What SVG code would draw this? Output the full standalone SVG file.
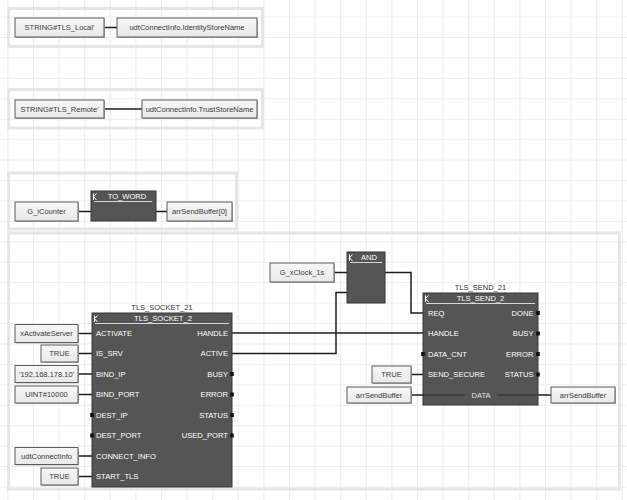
<svg xmlns="http://www.w3.org/2000/svg" width="627" height="500" viewBox="0 0 627 500">
<defs>
<pattern id="grid" x="7.4" y="16.6" width="25.6" height="20.43" patternUnits="userSpaceOnUse">
<path d="M0.5 0 V20.43 M0 0.5 H25.6" stroke="#ededed" stroke-width="1" fill="none"/>
</pattern>
<linearGradient id="boxg" x1="0" y1="0" x2="0" y2="1">
<stop offset="0" stop-color="#f7f7f7"/>
<stop offset="1" stop-color="#e9e9e9"/>
</linearGradient>
</defs>
<style>
.panel{fill:none;stroke:#e6e6e6;stroke-width:3}
.box{fill:url(#boxg);stroke:#5c5c5c;stroke-width:1}
.shd{fill:#b5b5b5}
.bt{font-family:"Liberation Sans",Arial,sans-serif;font-size:7.5px;fill:#3a3a3a;text-anchor:middle}
.blk{fill:#555555;stroke:#363636;stroke-width:1}
.pl{font-family:"Liberation Sans",Arial,sans-serif;font-size:7.6px;fill:#ffffff}
.pr{font-family:"Liberation Sans",Arial,sans-serif;font-size:7.6px;fill:#ffffff;text-anchor:end}
.ttl{font-family:"Liberation Sans",Arial,sans-serif;font-size:7.6px;fill:#ffffff;text-anchor:middle}
.inst{font-family:"Liberation Sans",Arial,sans-serif;font-size:7.5px;fill:#333;text-anchor:middle}
.ul{stroke:#d8d8d8;stroke-width:1}
.icon{stroke:#ffffff;stroke-width:1;fill:none}
.pin{fill:#111}
.wire{stroke:#1e1e1e;stroke-width:1.5;fill:none}
.dline{stroke:#2e2e2e;stroke-width:1;fill:none}
</style>
<rect width="627" height="500" fill="#ffffff"/>
<rect width="627" height="500" fill="url(#grid)"/>

<g id="panels">
<rect class="panel" x="8.5" y="8.5" width="254" height="38"/>
<rect class="panel" x="8.5" y="89.5" width="254" height="38.5"/>
<rect class="panel" x="8.5" y="173" width="228" height="56"/>
<rect class="panel" x="8.5" y="233" width="611" height="256"/>
</g>

<g id="connectors">
<path class="wire" d="M104 27.5 H117"/>
<path class="wire" d="M104 109 H142"/>
<path class="wire" d="M78 211.5 H91"/>
<path class="wire" d="M156 211.5 H167"/>
<path class="wire" d="M334 272.5 H347"/>
<path class="wire" d="M385 272.5 H411 V313 H423"/>
<path class="wire" d="M232 333 H423"/>
<path class="wire" d="M232 353.5 H336 V292.5 H347"/>
<path class="wire" d="M78 333.5 H92"/>
<path class="wire" d="M78 353.5 H92"/>
<path class="wire" d="M78 374 H92"/>
<path class="wire" d="M78 394.5 H92"/>
<path class="wire" d="M78 456 H92"/>
<path class="wire" d="M78 476.5 H92"/>
<path class="wire" d="M411 374.5 H423"/>
<path class="wire" d="M412 395 H423"/>
<path class="wire" d="M538 395 H551"/>
</g>

<g id="c_tls_local">
<rect class="shd" x="16" y="19" width="89" height="19"/>
<rect class="box" x="15" y="18" width="89" height="19"/>
<text class="bt" x="59.5" y="30.2">STRING#TLS_Local'</text>
</g>
<g id="v_identity">
<rect class="shd" x="118" y="19" width="140" height="19"/>
<rect class="box" x="117" y="18" width="140" height="19"/>
<text class="bt" x="187" y="30.2">udtConnectInfo.IdentityStoreName</text>
</g>
<g id="c_tls_remote">
<rect class="shd" x="16" y="101" width="89" height="18"/>
<rect class="box" x="15" y="100" width="89" height="18"/>
<text class="bt" x="59.5" y="111.7">STRING#TLS_Remote'</text>
</g>
<g id="v_trust">
<rect class="shd" x="143" y="101" width="115" height="18"/>
<rect class="box" x="142" y="100" width="115" height="18"/>
<text class="bt" x="199.5" y="111.7">udtConnectInfo.TrustStoreName</text>
</g>

<g id="v_icounter">
<rect class="shd" x="16" y="203" width="63" height="19"/>
<rect class="box" x="15" y="202" width="63" height="19"/>
<text class="bt" x="46.5" y="214.2">G_iCounter</text>
</g>
<g id="fb_to_word">
<rect class="blk" x="91" y="191" width="65" height="30"/>
<path class="icon" d="M93.5 193.5 V200 M93.5 196.7 L96.5 193.5 M93.5 196.7 L96.5 200"/>
<line class="ul" x1="94" y1="201.5" x2="152" y2="201.5"/>
<text class="ttl" x="127" y="199">TO_WORD</text>
</g>
<g id="v_sendbuf0">
<rect class="shd" x="168" y="203" width="65" height="19"/>
<rect class="box" x="167" y="202" width="65" height="19"/>
<text class="bt" x="199.5" y="214.2">arrSendBuffer[0]</text>
</g>

<g id="v_xclock">
<rect class="shd" x="271" y="264" width="64" height="19"/>
<rect class="box" x="270" y="263" width="64" height="19"/>
<text class="bt" x="302" y="275.2">G_xClock_1s</text>
</g>
<g id="fb_and">
<rect class="blk" x="347" y="252" width="38" height="51"/>
<path class="icon" d="M349.5 254.5 V261 M349.5 257.7 L352.5 254.5 M349.5 257.7 L352.5 261"/>
<line class="ul" x1="350" y1="262.5" x2="382" y2="262.5"/>
<text class="ttl" x="369" y="260">AND</text>
</g>

<g id="in_activate">
<rect class="shd" x="16" y="325.5" width="63" height="18"/>
<rect class="box" x="15" y="324.5" width="63" height="18"/>
<text class="bt" x="46.5" y="336.2">xActivateServer</text>
</g>
<g id="in_issrv">
<rect class="shd" x="42" y="346" width="37" height="17"/>
<rect class="box" x="41" y="345" width="37" height="17"/>
<text class="bt" x="59.5" y="356.2">TRUE</text>
</g>
<g id="in_bindip">
<rect class="shd" x="16" y="366.5" width="63" height="17"/>
<rect class="box" x="15" y="365.5" width="63" height="17"/>
<text class="bt" x="46.5" y="376.7">'192.168.178.10'</text>
</g>
<g id="in_bindport">
<rect class="shd" x="16" y="387" width="63" height="17"/>
<rect class="box" x="15" y="386" width="63" height="17"/>
<text class="bt" x="46.5" y="397.2">UINT#10000</text>
</g>
<g id="in_connectinfo">
<rect class="shd" x="16" y="448.5" width="63" height="17"/>
<rect class="box" x="15" y="447.5" width="63" height="17"/>
<text class="bt" x="46.5" y="458.7">udtConnectInfo</text>
</g>
<g id="in_starttls">
<rect class="shd" x="42" y="469" width="37" height="17"/>
<rect class="box" x="41" y="468" width="37" height="17"/>
<text class="bt" x="59.5" y="479.2">TRUE</text>
</g>

<g id="fb_tls_socket">
<text class="inst" x="162" y="310">TLS_SOCKET_21</text>
<rect class="blk" x="92" y="313" width="140" height="174"/>
<path class="icon" d="M94.5 315.5 V322 M94.5 318.7 L97.5 315.5 M94.5 318.7 L97.5 322"/>
<line class="ul" x1="95" y1="323.5" x2="229" y2="323.5"/>
<text class="ttl" x="163" y="321">TLS_SOCKET_2</text>
<text class="pl" x="96" y="336">ACTIVATE</text>
<text class="pl" x="96" y="356.2">IS_SRV</text>
<text class="pl" x="96" y="376.7">BIND_IP</text>
<text class="pl" x="96" y="397.2">BIND_PORT</text>
<text class="pl" x="96" y="417.7">DEST_IP</text>
<text class="pl" x="96" y="438.2">DEST_PORT</text>
<text class="pl" x="96" y="458.7">CONNECT_INFO</text>
<text class="pl" x="96" y="479.2">START_TLS</text>
<text class="pr" x="228" y="336">HANDLE</text>
<text class="pr" x="228" y="356.2">ACTIVE</text>
<text class="pr" x="228" y="376.7">BUSY</text>
<text class="pr" x="228" y="397.2">ERROR</text>
<text class="pr" x="228" y="417.7">STATUS</text>
<text class="pr" x="228" y="438.2">USED_PORT</text>
<rect class="pin" x="90.2" y="413" width="3.6" height="4"/>
<rect class="pin" x="90.2" y="433.5" width="3.6" height="4"/>
<rect class="pin" x="230.2" y="372" width="3.6" height="4"/>
<rect class="pin" x="230.2" y="392.5" width="3.6" height="4"/>
<rect class="pin" x="230.2" y="413" width="3.6" height="4"/>
<rect class="pin" x="230.2" y="433.5" width="3.6" height="4"/>
</g>

<g id="in_sendsecure">
<rect class="shd" x="373" y="367" width="39" height="17"/>
<rect class="box" x="372" y="366" width="39" height="17"/>
<text class="bt" x="391.5" y="377.2">TRUE</text>
</g>
<g id="in_data">
<rect class="shd" x="348" y="388" width="64" height="16"/>
<rect class="box" x="347" y="387" width="64" height="16"/>
<text class="bt" x="379" y="397.7">arrSendBuffer</text>
</g>
<g id="out_data">
<rect class="shd" x="552" y="388" width="64" height="16"/>
<rect class="box" x="551" y="387" width="64" height="16"/>
<text class="bt" x="583" y="397.7">arrSendBuffer</text>
</g>

<g id="fb_tls_send">
<text class="inst" x="480.5" y="290">TLS_SEND_21</text>
<rect class="blk" x="423" y="293" width="115" height="112"/>
<path class="icon" d="M425.5 295.5 V302 M425.5 298.7 L428.5 295.5 M425.5 298.7 L428.5 302"/>
<line class="ul" x1="426" y1="303.5" x2="535" y2="303.5"/>
<text class="ttl" x="480.5" y="301">TLS_SEND_2</text>
<text class="pl" x="428" y="315.7">REQ</text>
<text class="pl" x="428" y="336">HANDLE</text>
<text class="pl" x="428" y="356.7">DATA_CNT</text>
<text class="pl" x="428" y="377.2">SEND_SECURE</text>
<text class="pr" x="533.5" y="315.7">DONE</text>
<text class="pr" x="533.5" y="336">BUSY</text>
<text class="pr" x="533.5" y="356.7">ERROR</text>
<text class="pr" x="533.5" y="377.2">STATUS</text>
<path class="dline" d="M423 395 H465 M497 395 H538"/>
<text class="ttl" x="481" y="397.7" style="fill:#e2e2e2">DATA</text>
<rect class="pin" x="421.2" y="352" width="3.6" height="4"/>
<rect class="pin" x="536.2" y="311" width="3.6" height="4"/>
<rect class="pin" x="536.2" y="331.5" width="3.6" height="4"/>
<rect class="pin" x="536.2" y="352" width="3.6" height="4"/>
<rect class="pin" x="536.2" y="372.5" width="3.6" height="4"/>
</g>
</svg>
